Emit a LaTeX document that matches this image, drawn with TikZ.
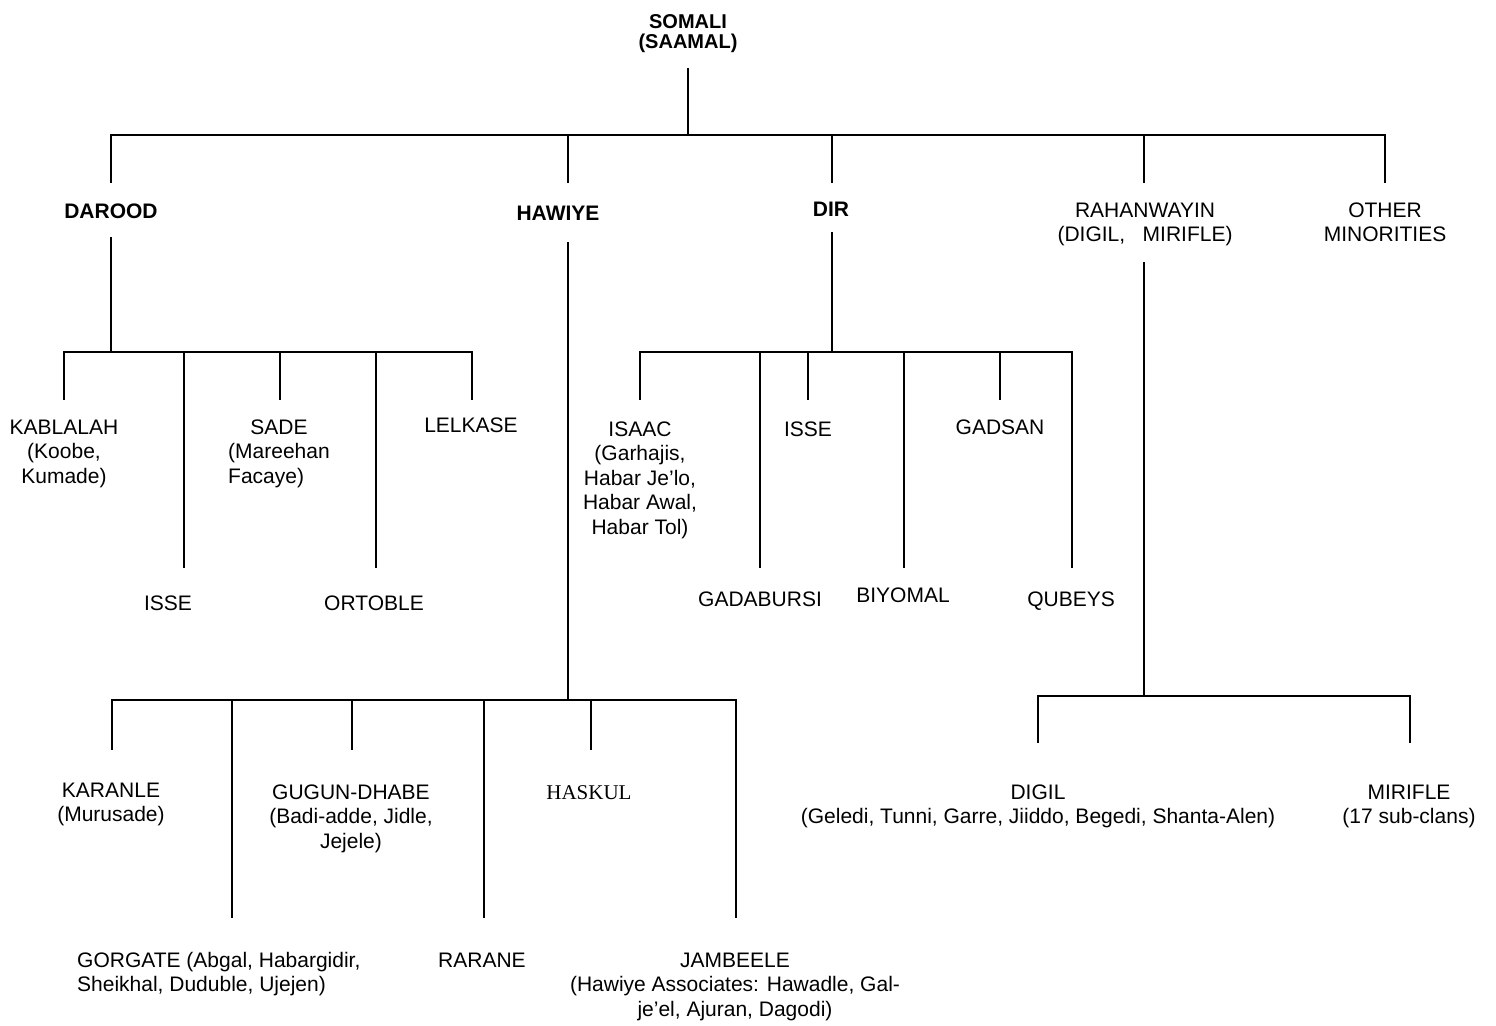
\documentclass[tikz,border=0pt]{standalone}
\usepackage{fontspec}
\setmainfont{Liberation Sans}
\newfontfamily\serifx{Liberation Serif}
\newcommand\ml[1]{\begin{tabular}[t]{@{}c@{}}#1\end{tabular}}
\newcommand\mll[1]{\begin{tabular}[t]{@{}l@{}}#1\end{tabular}}
\tikzset{
  lbl/.style={inner sep=0pt, anchor=base, font=\fontsize{21}{24.5}\selectfont},
  blbl/.style={lbl, font=\fontsize{21}{24.5}\selectfont\bfseries},
  conn/.style={line width=2pt, line join=miter},
}
\begin{document}
\begin{tikzpicture}[x=1pt,y=-1pt]
\useasboundingbox (0,0) rectangle (1496,1025);

% ---------- labels ----------
\node[lbl, font=\fontsize{20}{18}\selectfont\bfseries] (somali) at (688,29) {\ml{SOMALI\\(SAAMAL)}};

\node[blbl] (darood) at (111,218) {DAROOD};
\node[blbl] (hawiye) at (558,220) {HAWIYE};
\node[blbl] (dir) at (831,216) {DIR};
\node[lbl] (rahan) at (1145,217) {\ml{RAHANWAYIN\\(DIGIL,\ \ \ MIRIFLE)}};
\node[lbl] (other) at (1385,217) {\ml{OTHER\\MINORITIES}};

% Darood branch
\node[lbl] (kablalah) at (64,434) {\ml{KABLALAH\\(Koobe,\\Kumade)}};
\node[lbl] (isse1) at (168,610) {ISSE};
\node[lbl] (sade) at (279,434) {\mll{\multicolumn{1}{@{}c@{}}{SADE}\\(Mareehan\\Facaye)}};
\node[lbl] (ortoble) at (374,610) {ORTOBLE};
\node[lbl] (lelkase) at (471,432) {LELKASE};

% Dir branch
\node[lbl] (isaac) at (640,436) {\ml{ISAAC\\(Garhajis,\\Habar Je’lo,\\Habar Awal,\\Habar Tol)}};
\node[lbl] (isse2) at (808,436) {ISSE};
\node[lbl] (gadsan) at (1000,434) {GADSAN};
\node[lbl] (gadabursi) at (760,606) {GADABURSI};
\node[lbl] (biyomal) at (903,602) {BIYOMAL};
\node[lbl] (qubeys) at (1071,606) {QUBEYS};

% Hawiye branch
\node[lbl] (karanle) at (111,797) {\ml{KARANLE\\(Murusade)}};
\node[lbl] (gugun) at (351,799) {\ml{GUGUN-DHABE\\(Badi-adde, Jidle,\\Jejele)}};
\node[lbl, font=\fontsize{21}{24.5}\selectfont\serifx] (haskul) at (589,799) {HASKUL};
\node[lbl, anchor=base west] (gorgate) at (77,967) {\mll{GORGATE (Abgal, Habargidir,\\Sheikhal, Duduble, Ujejen)}};
\node[lbl] (rarane) at (482,967) {RARANE};
\node[lbl] (jambeele) at (735,967) {\ml{JAMBEELE\\(Hawiye Associates: Hawadle, Gal-\\je’el, Ajuran, Dagodi)}};

% Rahanwayin branch
\node[lbl] (digil) at (1038,799) {\ml{DIGIL\\(Geledi, Tunni, Garre, Jiiddo, Begedi, Shanta-Alen)}};
\node[lbl] (mirifle) at (1409,799) {\ml{MIRIFLE\\(17 sub-clans)}};

% ---------- connector points ----------
\coordinate (somali-s) at (688,68);
\coordinate (somali-bus) at (688,135);
\coordinate (darood-n) at (111,183);
\coordinate (hawiye-n) at (568,183);
\coordinate (dir-n) at (832,183);
\coordinate (rahan-n) at (1144,183);
\coordinate (other-n) at (1385,183);

\coordinate (darood-s) at (111,237);
\coordinate (darood-bus) at (111,352);
\coordinate (kablalah-n) at (64,400);
\coordinate (isse1-n) at (184,568);
\coordinate (sade-n) at (280,400);
\coordinate (ortoble-n) at (376,568);
\coordinate (lelkase-n) at (472,400);

\coordinate (dir-s) at (832,232);
\coordinate (dir-bus) at (832,352);
\coordinate (isaac-n) at (640,400);
\coordinate (gadabursi-n) at (760,568);
\coordinate (isse2-n) at (808,400);
\coordinate (biyomal-n) at (904,568);
\coordinate (gadsan-n) at (1000,400);
\coordinate (qubeys-n) at (1072,568);

\coordinate (hawiye-s) at (568,242);
\coordinate (hawiye-bus) at (568,700);
\coordinate (karanle-n) at (112,750);
\coordinate (gorgate-n) at (232,918);
\coordinate (gugun-n) at (352,750);
\coordinate (rarane-n) at (484,918);
\coordinate (haskul-n) at (591,750);
\coordinate (jambeele-n) at (736,918);

\coordinate (rahan-s) at (1144,262);
\coordinate (rahan-bus) at (1144,696);
\coordinate (digil-n) at (1038,743);
\coordinate (mirifle-n) at (1410,743);

% ---------- connectors ----------
\draw[conn] (somali-s) -- (somali-bus);
\foreach \c in {darood,hawiye,dir,rahan,other} \draw[conn] (somali-bus) -| (\c-n);

\draw[conn] (darood-s) -- (darood-bus);
\foreach \c in {kablalah,isse1,sade,ortoble,lelkase} \draw[conn] (darood-bus) -| (\c-n);

\draw[conn] (dir-s) -- (dir-bus);
\foreach \c in {isaac,gadabursi,isse2,biyomal,gadsan,qubeys} \draw[conn] (dir-bus) -| (\c-n);

\draw[conn] (hawiye-s) -- (hawiye-bus);
\foreach \c in {karanle,gorgate,gugun,rarane,haskul,jambeele} \draw[conn] (hawiye-bus) -| (\c-n);

\draw[conn] (rahan-s) -- (rahan-bus);
\foreach \c in {digil,mirifle} \draw[conn] (rahan-bus) -| (\c-n);
\end{tikzpicture}
\end{document}
